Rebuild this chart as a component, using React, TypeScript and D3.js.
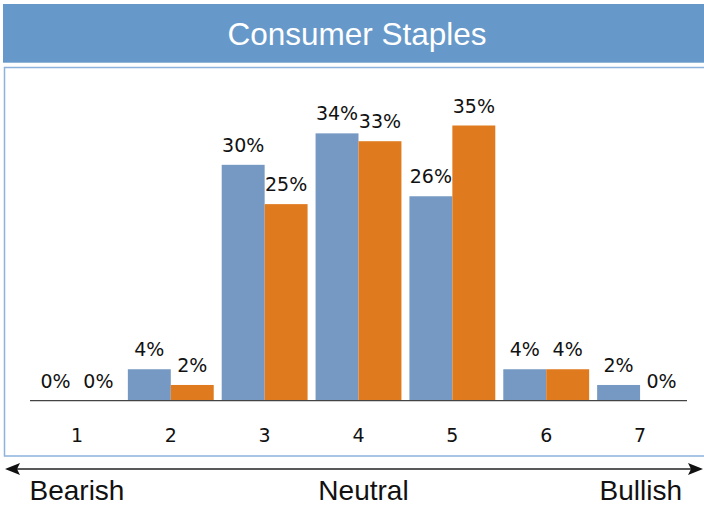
import React from "react";
import * as d3 from "d3";

// Survey categories (1 = bearish ... 7 = bullish)
const categories = ["1", "2", "3", "4", "5", "6", "7"];
// Two survey rounds, share of responses in percent
const seriesA = [0, 4, 30, 34, 26, 4, 2];
const seriesB = [0, 2, 25, 33, 35, 4, 0];
const seriesNames = ["prior", "current"];
const title = "Consumer Staples";
const sentimentLabels = ["Bearish", "Neutral", "Bullish"];

const W = 704;
const H = 506;

const BLUE = "#7599c2";
const ORANGE = "#e07a1e";
const HEADER = "#6699c9";
const BOX = "#8db2dc";

export default function App() {
  const baseY = 400.7;
  const x = d3
    .scaleBand<string>()
    .domain(categories)
    .range([30, 687])
    .paddingInner(8 / 94)
    .paddingOuter(4 / 94);
  const xs = d3
    .scaleBand<string>()
    .domain(seriesNames)
    .range([0, x.bandwidth()]);
  const y = d3.scaleLinear().domain([0, 35]).range([baseY, 125.5]);

  const series = [
    { name: seriesNames[0], values: seriesA, color: BLUE },
    { name: seriesNames[1], values: seriesB, color: ORANGE },
  ];

  const labelFont = "'DejaVu Sans', Verdana, sans-serif";
  const headFont = "'Liberation Sans', Arial, sans-serif";

  return (
    <div style={{ position: "absolute", left: 0, top: 0 }}>
      <svg width={W} height={H} viewBox={`0 0 ${W} ${H}`} style={{ display: "block" }}>
        <rect x={0} y={0} width={W} height={H} fill="#ffffff" />
        {/* header */}
        <rect x={3} y={4} width={W - 3} height={58.7} fill={HEADER} />
        <text
          x={357}
          y={45}
          textAnchor="middle"
          fill="#ffffff"
          fontFamily={headFont}
          fontSize={31.5}
        >
          {title}
        </text>
        {/* chart frame */}
        <rect
          x={4.5}
          y={67.5}
          width={W}
          height={388.5}
          fill="#ffffff"
          stroke={BOX}
          strokeWidth={1.5}
        />
        {/* bars */}
        {series.map((s) => (
          <g key={s.name}>
            {categories.map((c, i) => {
              const v = s.values[i];
              const bx = (x(c) ?? 0) + (xs(s.name) ?? 0);
              return (
                <g key={c}>
                  <rect
                    x={bx}
                    y={y(v)}
                    width={xs.bandwidth()}
                    height={baseY - y(v)}
                    fill={s.color}
                  />
                  <text
                    x={bx + xs.bandwidth() / 2}
                    y={y(v) - 13}
                    textAnchor="middle"
                    fontFamily={labelFont}
                    fontSize={19}
                    fill="#111"
                  >
                    {`${v}%`}
                  </text>
                </g>
              );
            })}
          </g>
        ))}
        {/* baseline */}
        <line x1={30} x2={687} y1={baseY} y2={baseY} stroke="#444" strokeWidth={1.2} />
        {/* category labels */}
        {categories.map((c) => (
          <text
            key={c}
            x={(x(c) ?? 0) + x.bandwidth() / 2}
            y={441.7}
            textAnchor="middle"
            fontFamily={labelFont}
            fontSize={19}
            fill="#111"
          >
            {c}
          </text>
        ))}
        {/* sentiment arrow */}
        <line x1={14} x2={694} y1={469} y2={469} stroke="#222" strokeWidth={1.6} />
        <path d="M5,469 L20,463 L17,469 L20,475 Z" fill="#111" />
        <path d="M703,469 L688,463 L691,469 L688,475 Z" fill="#111" />
        <text x={29.5} y={500} fontFamily={headFont} fontSize={28} fill="#111">
          {sentimentLabels[0]}
        </text>
        <text x={363.5} y={500} textAnchor="middle" fontFamily={headFont} fontSize={28} fill="#111">
          {sentimentLabels[1]}
        </text>
        <text x={682} y={500} textAnchor="end" fontFamily={headFont} fontSize={28} fill="#111">
          {sentimentLabels[2]}
        </text>
      </svg>
    </div>
  );
}
